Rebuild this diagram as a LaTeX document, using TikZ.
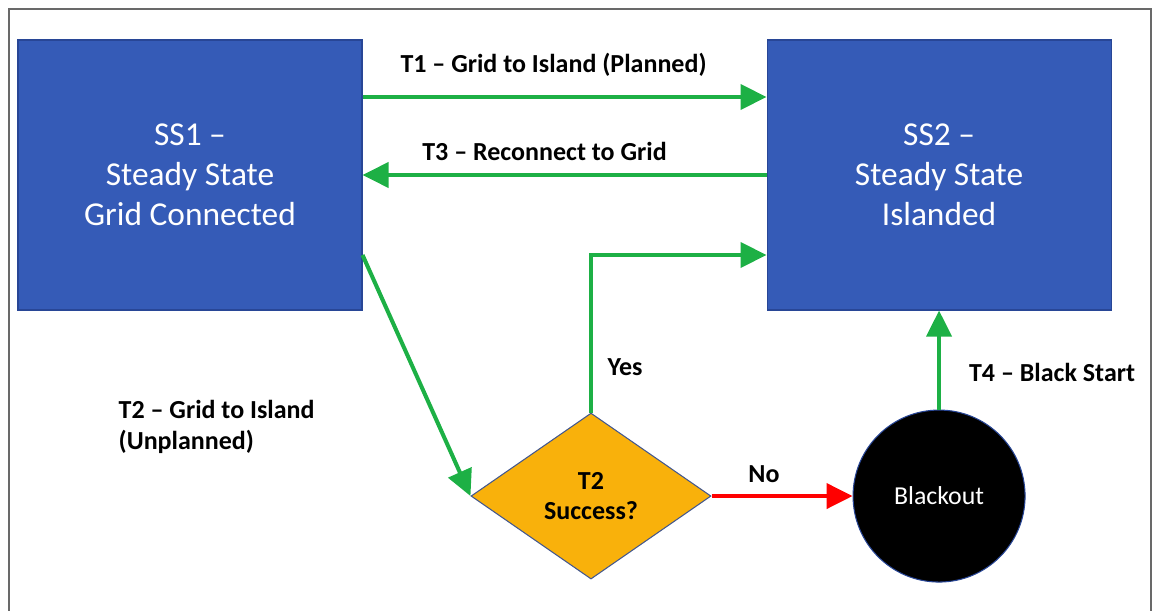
\documentclass[tikz,border=0pt]{standalone}
\usepackage{fontspec}
\setmainfont{Carlito}
\usepackage{tikz}
\usetikzlibrary{arrows.meta,positioning,shapes.geometric}
\definecolor{stateblue}{RGB}{53,91,183}
\definecolor{stateedge}{RGB}{40,70,150}
\definecolor{okgreen}{RGB}{29,176,69}
\definecolor{decisionyellow}{RGB}{249,177,11}
\definecolor{framegray}{RGB}{105,105,105}
\tikzset{
  statebox/.style={
    draw=stateedge,
    fill=stateblue,
    line width=0.6pt,
    text=white,
    align=center,
    font=\fontsize{19}{22.7}\selectfont,
    minimum width=6.88cm,
    minimum height=5.4cm
  },
  decisionbox/.style={
    diamond,
    draw=stateedge!70!gray,
    fill=decisionyellow,
    line width=0.6pt,
    inner sep=0pt,
    aspect=1.45,
    align=center,
    font=\fontsize{14.8}{16.6}\selectfont\bfseries,
    minimum width=4.8cm,
    minimum height=3.32cm
  },
  blackoutbox/.style={
    circle,
    draw=stateedge,
    fill=black,
    line width=0.6pt,
    text=white,
    font=\fontsize{14.7}{17}\selectfont,
    minimum size=3.44cm
  },
  translabel/.style={
    align=left,
    font=\fontsize{14.8}{17.6}\selectfont\bfseries
  },
  transarrow/.style={-{Triangle[length=0.52cm,width=0.5cm]}, line width=2.3pt, draw=okgreen},
  failarrow/.style={-{Triangle[length=0.52cm,width=0.5cm]}, line width=2.3pt, draw=red}
}
\begin{document}
\begin{tikzpicture}
  \useasboundingbox (0,0) rectangle (23.1,-12.22);
  \draw[framegray, line width=0.85pt] (0.18,-12.22) -- (0.18,-0.18) -- (23.02,-0.18) -- (23.02,-12.22);

  \node[statebox] (ss1) at (3.8,-3.5) {SS1 --\\Steady State\\Grid Connected};
  \node[statebox,right=8.08cm of ss1] (ss2) {SS2 --\\Steady State\\Islanded};
  \node[blackoutbox,below=1.98cm of ss2] (blackout) {Blackout};
  \node[decisionbox,left=2.82cm of blackout] (t2q) {T2\\Success?};

  \draw[transarrow] ([yshift=1.56cm]ss1.east) -- node[translabel,xshift=-0.22cm,yshift=0.64cm] (t1lbl) {T1 -- Grid to Island (Planned)} ([yshift=1.56cm]ss2.west);
  \draw[transarrow] (ss2.west) -- node[translabel,xshift=-0.4cm,yshift=0.48cm] (t3lbl) {T3 -- Reconnect to Grid} (ss1.east);
  \draw[transarrow] ([yshift=-1.6cm]ss1.east) -- (t2q.west);
  \draw[transarrow] (t2q.north) |- ([yshift=-1.6cm]ss2.west);
  \draw[failarrow] (t2q.east) -- node[translabel,xshift=-0.36cm,yshift=0.44cm] (nolbl) {No} (blackout.west);
  \draw[transarrow] (blackout.north) -- (ss2.south);

  \node[translabel] (yeslbl) at ([xshift=0.68cm,yshift=0.9cm]t2q.north) {Yes};
  \node[translabel] (t4lbl) at ([xshift=2.26cm,yshift=0.74cm]blackout.north) {T4 -- Black Start};
  \node[translabel,anchor=west] (t2lbl) at ([xshift=1.9cm,yshift=-2.32cm]ss1.south west) {T2 -- Grid to Island\\(Unplanned)};
\end{tikzpicture}
\end{document}
